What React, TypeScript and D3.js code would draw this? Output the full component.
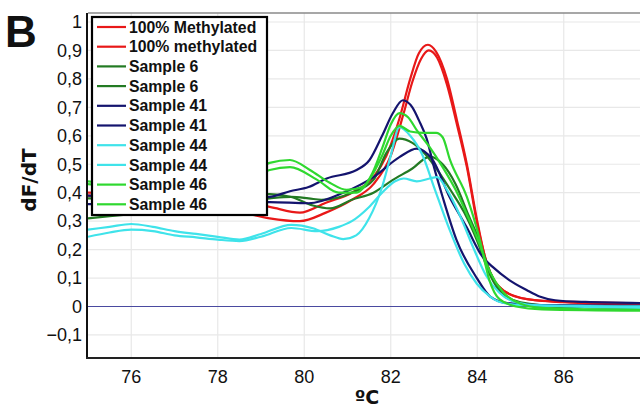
import React from "react";
import * as d3 from "d3";

type Pt = [number, number];

const xTicks = [76, 78, 80, 82, 84, 86];
const xGrid = [76, 78, 80, 82, 84, 86, 88];
const yTicks = [-0.1, 0, 0.1, 0.2, 0.3, 0.4, 0.5, 0.6, 0.7, 0.8, 0.9, 1];

const methylatedA: Pt[] = [[75,0.40],[76,0.395],[77,0.385],[78,0.375],[78.6,0.365],[79.2,0.35],[79.9,0.33],[80.5,0.365],[81.1,0.40],[81.6,0.455],[81.9,0.53],[82.2,0.66],[82.45,0.80],[82.65,0.89],[82.86,0.92],[83.05,0.895],[83.3,0.80],[83.53,0.655],[83.76,0.50],[84.0,0.30],[84.22,0.15],[84.5,0.07],[84.9,0.035],[85.5,0.02],[86.5,0.015],[88,0.01]];
const methylatedB: Pt[] = [[75,0.39],[76,0.38],[77,0.37],[78,0.35],[78.6,0.33],[79.2,0.31],[79.9,0.30],[80.5,0.33],[81.1,0.375],[81.6,0.43],[82.0,0.53],[82.3,0.68],[82.5,0.79],[82.7,0.87],[82.88,0.90],[83.07,0.875],[83.3,0.78],[83.53,0.64],[83.76,0.49],[84.0,0.29],[84.25,0.14],[84.5,0.07],[85,0.03],[86,0.015],[88,0.005]];
const sample6A: Pt[] = [[75,0.31],[76,0.325],[77,0.34],[78,0.355],[78.6,0.37],[79.2,0.38],[79.7,0.385],[80.1,0.38],[80.4,0.375],[81.1,0.40],[81.6,0.445],[81.9,0.54],[82.2,0.59],[82.5,0.575],[82.8,0.535],[83.1,0.475],[83.4,0.405],[83.7,0.33],[84.0,0.23],[84.3,0.11],[84.6,0.04],[85,0.012],[85.5,0.0],[88,-0.005]];
const sample6B: Pt[] = [[75,0.38],[76,0.38],[77,0.38],[78,0.385],[78.6,0.39],[79.2,0.395],[79.7,0.385],[80.2,0.355],[80.6,0.345],[81.1,0.375],[81.6,0.40],[82.05,0.445],[82.5,0.485],[82.9,0.527],[83.2,0.50],[83.5,0.43],[83.8,0.32],[84.0,0.25],[84.3,0.12],[84.6,0.045],[85,0.015],[86,0.0],[88,-0.005]];
const sample41A: Pt[] = [[75,0.39],[76,0.385],[77,0.38],[78,0.38],[78.6,0.38],[79.2,0.385],[79.67,0.405],[80.1,0.42],[80.52,0.45],[81.21,0.48],[81.51,0.515],[81.8,0.60],[82.05,0.68],[82.28,0.725],[82.5,0.70],[82.65,0.655],[82.83,0.59],[83.0,0.49],[83.2,0.385],[83.52,0.234],[83.99,0.10],[84.3,0.035],[84.7,0.012],[85.5,0.005],[88,0.003]];
const sample41B: Pt[] = [[75,0.36],[76,0.36],[77,0.36],[78,0.36],[78.6,0.365],[79.2,0.367],[80.1,0.363],[80.9,0.40],[81.6,0.455],[82.2,0.525],[82.6,0.555],[82.97,0.515],[83.36,0.385],[83.75,0.28],[84.12,0.175],[84.35,0.14],[84.74,0.093],[85.14,0.058],[85.44,0.035],[85.8,0.022],[86.5,0.016],[88,0.012]];
const sample44A: Pt[] = [[75,0.27],[75.5,0.28],[76,0.29],[76.5,0.28],[77,0.265],[77.5,0.255],[78,0.245],[78.5,0.235],[79,0.255],[79.7,0.287],[80.2,0.275],[80.6,0.25],[80.9,0.237],[81.2,0.25],[81.5,0.31],[81.8,0.42],[82.0,0.53],[82.2,0.63],[82.45,0.60],[82.74,0.53],[83.0,0.42],[83.36,0.27],[83.7,0.15],[83.99,0.08],[84.3,0.035],[84.52,0.016],[85,0.005],[88,0.0]];
const sample44B: Pt[] = [[75,0.245],[75.5,0.26],[76,0.27],[76.5,0.265],[77,0.25],[77.5,0.243],[78,0.235],[78.5,0.23],[79,0.245],[79.7,0.276],[80.3,0.265],[80.8,0.28],[81.1,0.30],[81.5,0.35],[81.8,0.40],[82.1,0.44],[82.3,0.45],[82.6,0.44],[82.9,0.45],[83.07,0.455],[83.3,0.41],[83.6,0.32],[83.9,0.21],[84.2,0.11],[84.5,0.05],[84.8,0.02],[85.3,0.005],[88,-0.005]];
const sample46A: Pt[] = [[75,0.44],[76,0.43],[77,0.43],[78,0.44],[78.7,0.46],[79.2,0.505],[79.67,0.515],[80.13,0.48],[80.59,0.435],[80.98,0.41],[81.35,0.42],[81.58,0.47],[81.81,0.56],[82.0,0.64],[82.2,0.68],[82.4,0.665],[82.6,0.62],[82.9,0.56],[83.2,0.49],[83.5,0.41],[83.8,0.31],[84.0,0.24],[84.3,0.12],[84.6,0.05],[85.0,0.01],[85.5,-0.005],[86.5,-0.01],[88,-0.012]];
const sample46B: Pt[] = [[75,0.43],[76,0.42],[77,0.42],[78,0.43],[78.7,0.45],[79.2,0.48],[79.67,0.49],[80.3,0.445],[80.8,0.40],[81.2,0.40],[81.5,0.445],[81.8,0.53],[82.0,0.60],[82.2,0.635],[82.45,0.615],[82.75,0.61],[83.05,0.61],[83.2,0.595],[83.37,0.515],[83.76,0.385],[84.06,0.234],[84.28,0.093],[84.52,0.025],[84.9,0.0],[85.5,-0.01],[88,-0.015]];

const seriesNames = ["100% Methylated","100% methylated","Sample 6","Sample 6","Sample 41","Sample 41","Sample 44","Sample 44","Sample 46","Sample 46"];
const seriesColors = ["#e81818","#e81818","#237a23","#237a23","#14146e","#14146e","#3fe3ea","#3fe3ea","#2fd82f","#2fd82f"];
const seriesData = [methylatedA, methylatedB, sample6A, sample6B, sample41A, sample41B, sample44A, sample44B, sample46A, sample46B];

export default function App() {
  const W = 640, H = 410;
  const left = 88, top = 13, bottom = 358;
  const x = d3.scaleLinear().domain([75, 88]).range([left, left + 13 * 43.25]);
  const y = d3.scaleLinear().domain([0, 1]).range([306.5, 22]);
  const line = d3.line<Pt>().x(d => x(d[0])).y(d => y(d[1])).curve(d3.curveMonotoneX);
  const font = "'Liberation Sans', Arial, sans-serif";

  return (
    <svg width={W} height={H} style={{ position: "absolute", left: 0, top: 0, background: "#fff" }}>
      <defs>
        <clipPath id="plot"><rect x={left} y={top} width={W - left} height={bottom - top} /></clipPath>
      </defs>
      <rect x={0} y={0} width={W} height={H} fill="#fff" />
      {yTicks.map(t => (
        <line key={"gy" + t} x1={left} x2={W} y1={y(t)} y2={y(t)} stroke="#e8e8e8" strokeWidth={1.2} />
      ))}
      {xGrid.map(t => (
        <line key={"gx" + t} x1={x(t)} x2={x(t)} y1={top} y2={bottom} stroke="#e8e8e8" strokeWidth={1.2} />
      ))}
      <line x1={left} x2={W} y1={y(0)} y2={y(0)} stroke="#4a4aa0" strokeWidth={1} />
      <line x1={left} x2={W} y1={top} y2={top} stroke="#8a8a8a" strokeWidth={1.5} />
      <g clipPath="url(#plot)">
        {seriesData.map((d, i) => (
          <path key={i} d={line(d) || ""} fill="none" stroke={seriesColors[i]} strokeWidth={2.2} strokeLinejoin="round" />
        ))}
      </g>
      <line x1={left - 1} x2={left - 1} y1={top} y2={bottom} stroke="#111" strokeWidth={2} />
      <line x1={left - 2} x2={W} y1={bottom} y2={bottom} stroke="#222" strokeWidth={2} />
      {yTicks.map(t => (
        <text key={"ty" + t} x={82} y={y(t)} dy="0.35em" textAnchor="end" fontFamily={font} fontSize={18} fill="#111">
          {d3.format(".1f")(t).replace(/\.0$/, "").replace(".", ",").replace(/^1,0$/, "1")}
        </text>
      ))}
      {xTicks.map(t => (
        <text key={"tx" + t} x={x(t)} y={383} textAnchor="middle" fontFamily={font} fontSize={18} fill="#111">{t}</text>
      ))}
      <rect x={92} y={17} width={175} height={198} fill="#fff" stroke="#000" strokeWidth={2.2} />
      {seriesNames.map((n, i) => {
        const cy = 27 + i * 19.7;
        return (
          <g key={"lg" + i}>
            <line x1={97} x2={126} y1={cy} y2={cy} stroke={seriesColors[i]} strokeWidth={2.2} />
            <text x={129} y={cy} dy="0.36em" fontFamily={font} fontWeight="bold" fontSize={15.8} fill="#111">{n}</text>
          </g>
        );
      })}
      <text x={5} y={47} fontFamily={font} fontWeight="bold" fontSize={44} fill="#111">B</text>
      <text transform="translate(36,180) rotate(-90)" textAnchor="middle" fontFamily="'DejaVu Sans', sans-serif" fontWeight="bold" fontSize={20} fill="#111">dF/dT</text>
      <text x={367} y={404} textAnchor="middle" fontFamily="'DejaVu Sans', sans-serif" fontWeight="bold" fontSize={19} fill="#111">ºC</text>
    </svg>
  );
}
